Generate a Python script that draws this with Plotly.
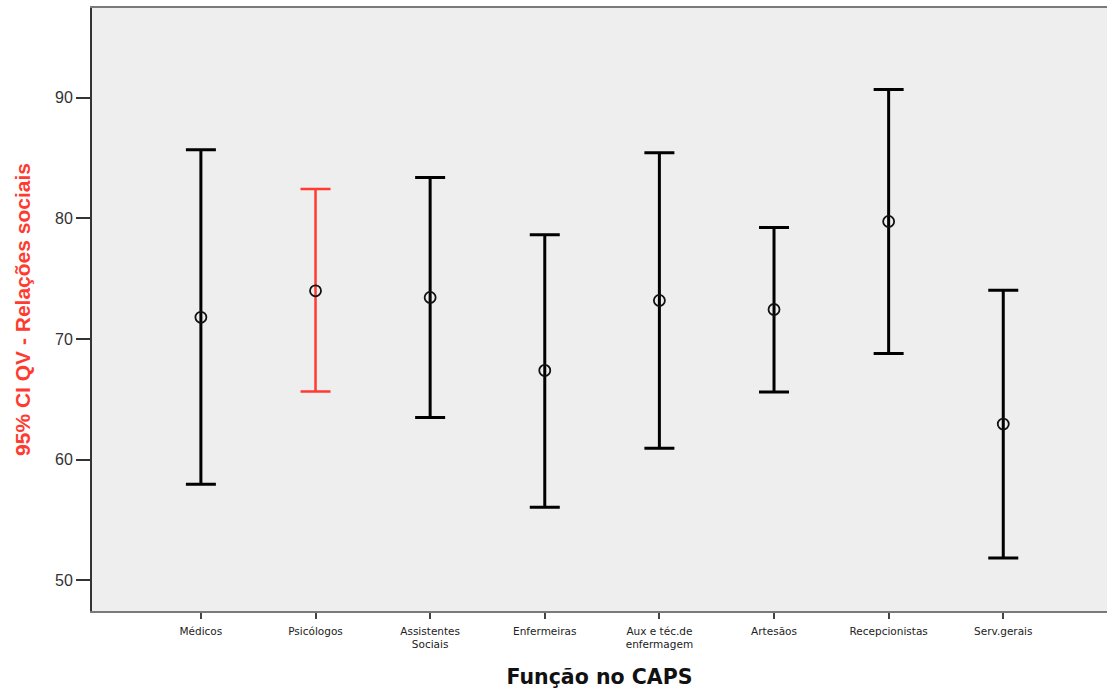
import plotly.graph_objects as go

categories = ["Médicos", "Psicólogos", "Assistentes<br>Sociais", "Enfermeiras",
              "Aux e téc.de<br>enfermagem", "Artesãos", "Recepcionistas", "Serv.gerais"]
means = [71.8, 74.0, 73.45, 67.4, 73.2, 72.45, 79.75, 62.95]
lower = [57.95, 65.65, 63.5, 56.05, 60.95, 65.6, 68.8, 51.85]
upper = [85.7, 82.45, 83.4, 78.65, 85.45, 79.25, 90.7, 74.05]
highlight = "Psicólogos"

fig = go.Figure()
for i, cat in enumerate(categories):
    col = "#ff3b30" if cat == highlight else "#000000"
    fig.add_trace(go.Scatter(
        x=[i], y=[means[i]],
        mode="markers",
        marker=dict(symbol="circle-open", size=11, color="#111111", line=dict(width=1.8)),
        error_y=dict(type="data", symmetric=False,
                     array=[upper[i] - means[i]], arrayminus=[means[i] - lower[i]],
                     color=col, thickness=3 if col == "#000000" else 2.5, width=15),
        showlegend=False,
        hoverinfo="y",
    ))

fig.update_layout(
    width=1107, height=689,
    margin=dict(l=92, r=0, t=8, b=78),
    paper_bgcolor="white",
    plot_bgcolor="#eeeeee",
    font=dict(family="Liberation Sans, Arial, sans-serif", color="#222222"),
    xaxis=dict(
        tickmode="array", tickvals=list(range(len(categories))), ticktext=categories,
        range=[-0.95, 7.905],
        showgrid=False, zeroline=False,
        showline=True, linecolor="#7a7a7a", linewidth=2, mirror=True,
        ticks="outside", ticklen=6, tickwidth=2, tickcolor="#444444",
        ticklabelstandoff=3,
        tickfont=dict(family="DejaVu Sans, sans-serif", size=10.5, color="#222222"),
        title=dict(text="Função no CAPS", standoff=20,
                   font=dict(family="DejaVu Sans, sans-serif", size=20.5, color="#111111", weight="bold")),
    ),
    yaxis=dict(
        range=[47.45, 97.45],
        tickvals=[50, 60, 70, 80, 90],
        showgrid=False, zeroline=False,
        showline=True, linecolor="#333333", linewidth=2,
        ticks="outside", ticklen=14, tickwidth=2, tickcolor="#333333",
        tickfont=dict(size=16, color="#333333"),
        title=dict(text="95% CI QV - Relações sociais", standoff=19,
                   font=dict(family="Liberation Sans Narrow, Arial Narrow, sans-serif", size=21,
                             color="#ff3b30", weight="bold")),
    ),
)

fig.write_html("out.html", config={"displayModeBar": False, "displaylogo": False},
               post_script="document.body.style.margin='0';document.body.style.overflow='hidden';")
